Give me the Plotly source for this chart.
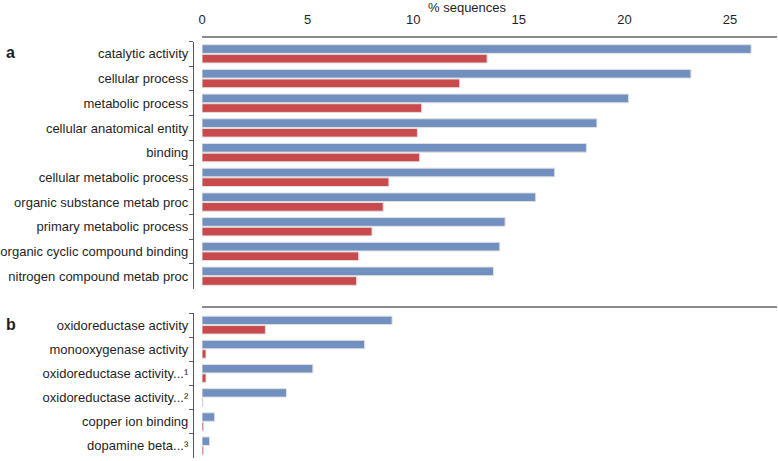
import plotly.graph_objects as go

# ---- data ----
a_labels = ["catalytic activity", "cellular process", "metabolic process",
            "cellular anatomical entity", "binding", "cellular metabolic process",
            "organic substance metab proc", "primary metabolic process",
            "organic cyclic compound binding", "nitrogen compound metab proc"]
a_blue = [26.0, 23.15, 20.2, 18.7, 18.2, 16.7, 15.8, 14.35, 14.1, 13.8]
a_red = [13.5, 12.2, 10.4, 10.2, 10.3, 8.85, 8.58, 8.05, 7.42, 7.32]

b_labels = ["oxidoreductase activity", "monooxygenase activity",
            "oxidoreductase activity...\u00b9", "oxidoreductase activity...\u00b2",
            "copper ion binding", "dopamine beta...\u00b3"]
b_blue = [9.0, 7.7, 5.25, 4.0, 0.6, 0.36]
b_red = [3.0, 0.19, 0.19, 0.04, 0.08, 0.08]

x_ticks = [0, 5, 10, 15, 20, 25]

BLUE = "#7190BF"
RED = "#C94A4C"
EDGE = "rgba(225,225,225,1)"
FONT = "Liberation Sans, Arial, sans-serif"
TXT = "#1f1f1f"

W, H = 778, 461
ML, MR, MT, MB = 193, 1, 37, 3
pw = W - ML - MR
ph = H - MT - MB


def py(ypix):
    return (H - MB - ypix) / ph


def px(xpix):
    return (xpix - ML) / pw


fig = go.Figure()

for lab, blue, red, ya, xa in [(a_labels, a_blue, a_red, "y", "x"),
                               (b_labels, b_blue, b_red, "y2", "x2")]:
    fig.add_trace(go.Bar(y=lab, x=blue, orientation="h", marker_color=BLUE,
                         marker_line=dict(color=EDGE, width=1), xaxis=xa, yaxis=ya,
                         showlegend=False, hoverinfo="x+y"))
    fig.add_trace(go.Bar(y=lab, x=red, orientation="h", marker_color=RED,
                         marker_line=dict(color=EDGE, width=1), xaxis=xa, yaxis=ya,
                         showlegend=False, hoverinfo="x+y"))

xdom = [px(202), 1.0]
xrange_ = [0, (777 - 202) / 21.12]

yaxis_common = dict(
    type="category", autorange="reversed", anchor="free", position=0,
    showline=True, linecolor="#595959", linewidth=1.3,
    ticks="outside", tickson="boundaries", ticklen=4, tickcolor="#595959",
    tickwidth=1.3, ticklabelstandoff=2,
    tickfont=dict(family=FONT, size=13, color=TXT), showgrid=False,
    zeroline=False, fixedrange=True,
)

fig.update_layout(
    width=W, height=H,
    margin=dict(l=ML, r=MR, t=MT, b=MB),
    paper_bgcolor="white", plot_bgcolor="white",
    barmode="group", bargap=0.22, bargroupgap=0.1,
    font=dict(family=FONT, size=13, color=TXT),
    xaxis=dict(domain=xdom, range=xrange_, anchor="free", position=1.0,
               side="top", showline=True, linecolor="#8c8c8c", linewidth=1.6,
               tickvals=x_ticks, ticks="outside", ticklen=7,
               tickcolor="rgba(0,0,0,0)",
               tickfont=dict(family=FONT, size=13, color=TXT),
               showgrid=False, zeroline=False),
    xaxis2=dict(domain=xdom, range=xrange_, anchor="free", position=py(307),
                side="top", showline=True, linecolor="#8c8c8c", linewidth=1.6,
                showticklabels=False, ticks="", showgrid=False, zeroline=False,
                matches="x"),
    yaxis=dict(domain=[py(288.5), py(41.5)], **yaxis_common),
    yaxis2=dict(domain=[py(458), py(313)], **yaxis_common),
    annotations=[
        dict(text="% sequences", x=px(467), y=py(-2), xref="paper", yref="paper",
             showarrow=False, xanchor="center", yanchor="top",
             font=dict(family=FONT, size=13, color=TXT)),
        dict(text="<b>a</b>", x=px(4), y=py(52), xref="paper", yref="paper",
             showarrow=False, xanchor="left", yanchor="middle",
             font=dict(family=FONT, size=16, color=TXT)),
        dict(text="<b>b</b>", x=px(4), y=py(324), xref="paper", yref="paper",
             showarrow=False, xanchor="left", yanchor="middle",
             font=dict(family=FONT, size=16, color=TXT)),
    ],
)

fig.write_html("out.html")
